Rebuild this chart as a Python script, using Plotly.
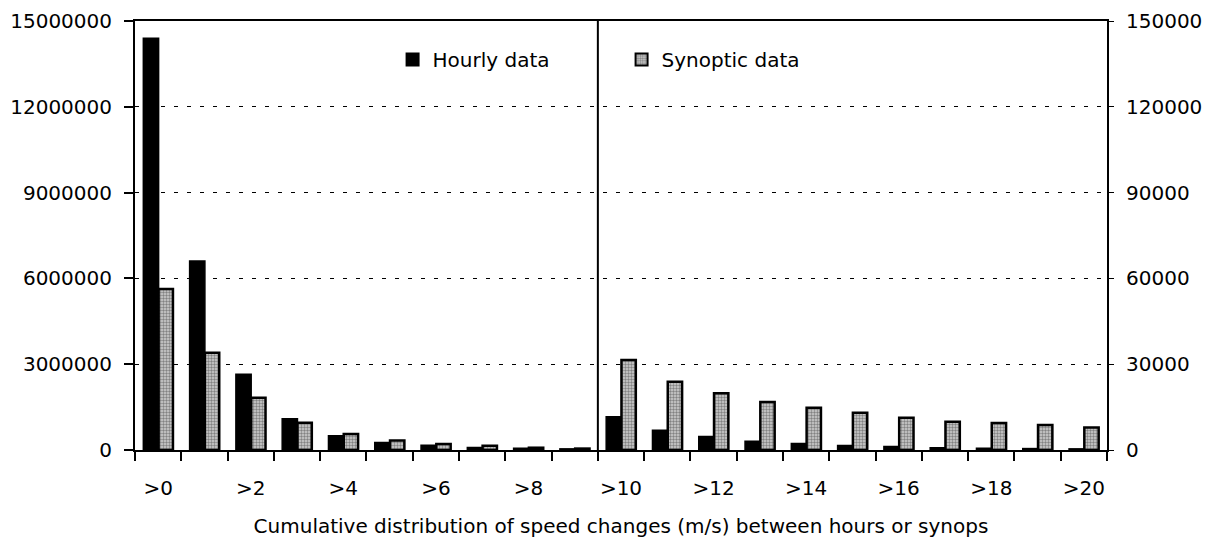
import plotly.graph_objects as go

# Cumulative speed-change classes (m/s)
categories = [">0", ">1", ">2", ">3", ">4", ">5", ">6", ">7", ">8", ">9", ">10",
              ">11", ">12", ">13", ">14", ">15", ">16", ">17", ">18", ">19", ">20"]

# Hourly data (left axis)
hourly = [14400000, 6610000, 2650000, 1090000, 500000, 260000, 170000, 90000, 60000, 40000,
          1160000, 690000, 470000, 310000, 230000, 160000, 120000, 80000, 60000, 50000, 40000]

# Synoptic data (right axis)
synoptic = [56300, 34000, 18300, 9500, 5600, 3300, 2100, 1500, 800, 500,
            31500, 23900, 19800, 16800, 14800, 13000, 11300, 9900, 9400, 8700, 7900]

left_ticks = [0, 3000000, 6000000, 9000000, 12000000, 15000000]
right_ticks = [0, 30000, 60000, 90000, 120000, 150000]
split_at = ">10"

xpos = list(range(len(categories)))
font = dict(family="DejaVu Sans, Liberation Sans, sans-serif", size=20, color="black")

fig = go.Figure()
fig.add_trace(go.Bar(
    x=xpos, y=hourly, name="Hourly data", yaxis="y",
    width=0.33, offset=-0.32,
    marker=dict(color="black", line=dict(color="black", width=1.5)),
))
fig.add_trace(go.Bar(
    x=xpos, y=synoptic, name="Synoptic data", yaxis="y2",
    width=0.31, offset=0.01,
    marker=dict(color="#a8a8a8", line=dict(color="black", width=2.5),
                pattern=dict(shape=".", fgcolor="#333333", bgcolor="#d0d0d0",
                             size=3, solidity=0.5)),
))

# separator between the two halves of the distribution
split_x = categories.index(split_at) - 0.5
fig.add_shape(type="line", x0=split_x, x1=split_x, y0=0, y1=1,
              xref="x", yref="paper", line=dict(color="black", width=2))

even = xpos[::2]
fig.update_layout(
    width=1215, height=540,
    margin=dict(l=135, r=108, t=21, b=90),
    paper_bgcolor="white", plot_bgcolor="white",
    font=font,
    barmode="overlay",
    showlegend=True,
    legend=dict(orientation="h", x=0.265, y=0.91, xanchor="left", yanchor="middle",
                bgcolor="rgba(0,0,0,0)", font=font, entrywidth=184,
                itemsizing="constant"),
    xaxis=dict(
        range=[-0.5, len(categories) - 0.5], automargin=False,
        tickmode="array", tickvals=even, ticktext=[categories[i] for i in even],
        ticks="", showgrid=False, zeroline=False,
        showline=True, linecolor="black", linewidth=2, mirror=True,
        minor=dict(tickmode="linear", tick0=-0.5, dtick=1, ticks="outside",
                   ticklen=9, tickwidth=2, tickcolor="black", showgrid=False),
        title=dict(text="Cumulative distribution of speed changes (m/s) between hours or synops",
                   font=font, standoff=20),
        ticklabelstandoff=19,
    ),
    yaxis=dict(
        range=[0, 15000000], tickmode="array", tickvals=left_ticks, automargin=False,
        tickformat="d", ticks="outside", ticklen=9, tickwidth=2, tickcolor="black",
        showline=True, linecolor="black", linewidth=2,
        showgrid=True, gridcolor="black", gridwidth=1, griddash="4px,9px",
        zeroline=False, ticklabelstandoff=8,
    ),
    yaxis2=dict(
        overlaying="y", side="right", automargin=False,
        range=[0, 150000], tickmode="array", tickvals=right_ticks,
        tickformat="d", ticks="outside", ticklen=5, tickwidth=1, tickcolor="black",
        showline=True, linecolor="black", linewidth=2,
        showgrid=False, zeroline=False, ticklabelstandoff=8,
    ),
)

fig.write_html("out.html")
